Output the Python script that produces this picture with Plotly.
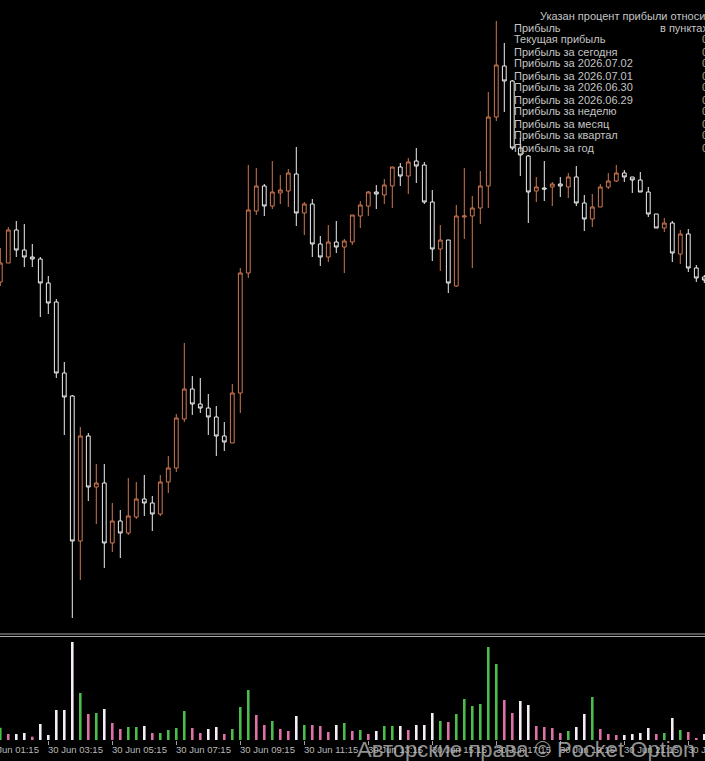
import plotly.graph_objects as go

# ---------------- data (15-minute candles, 30 Jun) ----------------
open_ = [1.08358, 1.08377, 1.08410, 1.08390, 1.08383, 1.08381, 1.08357, 1.08338, 1.08267, 1.08244,
         1.08099, 1.08204, 1.08153, 1.08157, 1.08097, 1.08119, 1.08107, 1.08123, 1.08141, 1.08137,
         1.08126, 1.08158, 1.08172, 1.08221, 1.08251, 1.08236, 1.08232, 1.08223, 1.08204, 1.08197,
         1.08247, 1.08367, 1.08429, 1.08454, 1.08434, 1.08447, 1.08449, 1.08466, 1.08427, 1.08436,
         1.08396, 1.08383, 1.08398, 1.08393, 1.08398, 1.08424, 1.08434, 1.08448, 1.08445, 1.08454,
         1.08473, 1.08464, 1.08479, 1.08475, 1.08438, 1.08391, 1.08400, 1.08354, 1.08423, 1.08424,
         1.08432, 1.08454, 1.08523, 1.08574, 1.08559, 1.08492, 1.08484, 1.08449, 1.08452, 1.08453,
         1.08456, 1.08453, 1.08463, 1.08437, 1.08421, 1.08433, 1.08453, 1.08459, 1.08467, 1.08463,
         1.08460, 1.08448, 1.08426, 1.08412, 1.08417, 1.08386, 1.08406, 1.08372, 1.08363]
high = [1.08392, 1.08413, 1.08419, 1.08416, 1.08396, 1.08383, 1.08364, 1.08341, 1.08278, 1.08245,
        1.08213, 1.08207, 1.08176, 1.08176, 1.08137, 1.08130, 1.08162, 1.08158, 1.08165, 1.08144,
        1.08165, 1.08184, 1.08226, 1.08297, 1.08264, 1.08262, 1.08246, 1.08234, 1.08218, 1.08256,
        1.08372, 1.08475, 1.08472, 1.08456, 1.08479, 1.08465, 1.08471, 1.08493, 1.08438, 1.08441,
        1.08404, 1.08415, 1.08419, 1.08401, 1.08425, 1.08439, 1.08449, 1.08455, 1.08461, 1.08473,
        1.08477, 1.08482, 1.08492, 1.08478, 1.08450, 1.08415, 1.08400, 1.08435, 1.08472, 1.08444,
        1.08469, 1.08548, 1.08619, 1.08597, 1.08560, 1.08502, 1.08485, 1.08463, 1.08479, 1.08458,
        1.08463, 1.08467, 1.08474, 1.08445, 1.08446, 1.08456, 1.08467, 1.08475, 1.08470, 1.08463,
        1.08468, 1.08453, 1.08426, 1.08422, 1.08419, 1.08410, 1.08411, 1.08375, 1.08365]
low = [1.08354, 1.08377, 1.08383, 1.08373, 1.08373, 1.08323, 1.08326, 1.08262, 1.08205, 1.08022,
       1.08060, 1.08139, 1.08116, 1.08072, 1.08088, 1.08082, 1.08105, 1.08121, 1.08124, 1.08109,
       1.08124, 1.08147, 1.08168, 1.08218, 1.08225, 1.08227, 1.08205, 1.08184, 1.08189, 1.08197,
       1.08227, 1.08362, 1.08425, 1.08424, 1.08431, 1.08436, 1.08433, 1.08414, 1.08405, 1.08383,
       1.08374, 1.08378, 1.08387, 1.08367, 1.08395, 1.08412, 1.08424, 1.08431, 1.08436, 1.08432,
       1.08454, 1.08446, 1.08457, 1.08436, 1.08379, 1.08369, 1.08347, 1.08353, 1.08401, 1.08372,
       1.08416, 1.08432, 1.08519, 1.08528, 1.08490, 1.08464, 1.08417, 1.08438, 1.08439, 1.08434,
       1.08443, 1.08442, 1.08434, 1.08409, 1.08413, 1.08433, 1.08451, 1.08458, 1.08458, 1.08447,
       1.08448, 1.08423, 1.08412, 1.08408, 1.08378, 1.08376, 1.08368, 1.08358, 1.08357]
close = [1.08377, 1.08410, 1.08390, 1.08383, 1.08381, 1.08357, 1.08337, 1.08267, 1.08243, 1.08099,
         1.08204, 1.08153, 1.08157, 1.08097, 1.08119, 1.08107, 1.08124, 1.08141, 1.08137, 1.08126,
         1.08158, 1.08172, 1.08222, 1.08251, 1.08236, 1.08232, 1.08223, 1.08204, 1.08198, 1.08247,
         1.08367, 1.08430, 1.08454, 1.08434, 1.08448, 1.08450, 1.08467, 1.08427, 1.08436, 1.08396,
         1.08383, 1.08398, 1.08393, 1.08399, 1.08425, 1.08435, 1.08448, 1.08446, 1.08455, 1.08473,
         1.08464, 1.08478, 1.08474, 1.08438, 1.08391, 1.08400, 1.08357, 1.08424, 1.08424, 1.08432,
         1.08454, 1.08523, 1.08575, 1.08559, 1.08492, 1.08485, 1.08448, 1.08453, 1.08451, 1.08456,
         1.08454, 1.08463, 1.08437, 1.08421, 1.08433, 1.08453, 1.08459, 1.08467, 1.08463, 1.08460,
         1.08448, 1.08426, 1.08412, 1.08417, 1.08387, 1.08406, 1.08372, 1.08362, 1.08360]

volume = [37, 18, 18, 21, 10, 48, 15, 90, 90, 294,
          141, 78, 81, 93, 51, 33, 39, 39, 42, 21,
          21, 30, 36, 87, 36, 21, 33, 39, 18, 33,
          99, 150, 75, 45, 57, 33, 27, 72, 45, 45,
          42, 24, 45, 51, 27, 30, 18, 27, 42, 42,
          42, 30, 45, 45, 81, 57, 54, 78, 123, 102,
          108, 279, 228, 120, 81, 117, 105, 42, 39, 36,
          21, 27, 39, 78, 129, 33, 18, 15, 15, 18,
          21, 36, 18, 21, 66, 30, 24, 6, 18]
# volume state: g = rising/bull, p = falling, w = rising/bear
vol_state = ["g", "p", "w", "w", "p", "w", "w", "w", "w", "w",
             "g", "p", "g", "w", "p", "p", "g", "g", "w", "p",
             "g", "g", "g", "g", "p", "p", "w", "w", "p", "g",
             "g", "g", "p", "p", "g", "p", "p", "w", "g", "p",
             "p", "p", "w", "g", "p", "g", "p", "w", "g", "g",
             "w", "p", "w", "w", "w", "g", "p", "g", "g", "g",
             "g", "g", "g", "p", "p", "w", "w", "p", "p", "p",
             "p", "g", "w", "w", "g", "p", "p", "p", "w", "w",
             "w", "w", "p", "g", "w", "g", "p", "p", "w"]

tick_idx = [-2, 6, 14, 22, 30, 38, 46, 54, 62, 70, 78, 86]
tick_text = ["30 Jun 01:15", "30 Jun 03:15", "30 Jun 05:15", "30 Jun 07:15", "30 Jun 09:15",
             "30 Jun 11:15", "30 Jun 13:15", "30 Jun 15:15", "30 Jun 17:15", "30 Jun 19:15",
             "30 Jun 21:15", "30 Jun 23:15"]

panel_header = "Указан процент прибыли относительно депозита"
panel_rows = ["Прибыль", "Текущая прибыль", "Прибыль за сегодня", "Прибыль за 2026.07.02",
              "Прибыль за 2026.07.01", "Прибыль за 2026.06.30", "Прибыль за 2026.06.29",
              "Прибыль за неделю", "Прибыль за месяц", "Прибыль за квартал", "Прибыль за год"]
panel_values = ["в пунктах", "0.00", "0.00", "0.00", "0.00", "0.00", "0.00", "0.00", "0.00", "0.00", "0.00"]

# ---------------- styles ----------------
UP = "#cd7752"
DN = "#eeeeee"
VCOL = {"g": "#4cbd4c", "p": "#e070a8", "w": "#f6eef6"}
TXT = "#c4c4c4"
FONT = "Liberation Sans"
W, H = 705, 761
PLOT_H = 740  # plot area height in px (bottom margin 21)

idx = list(range(len(open_)))
XR = [-0.0375, 88.0875]

fig = go.Figure()
fig.add_trace(go.Candlestick(
    x=idx, open=open_, high=high, low=low, close=close,
    increasing=dict(line=dict(color=UP, width=1), fillcolor="#000000"),
    decreasing=dict(line=dict(color=DN, width=1), fillcolor="#000000"),
    whiskerwidth=0, xaxis="x", yaxis="y", hoverinfo="skip", showlegend=False))
fig.add_trace(go.Bar(
    x=idx, y=volume, width=0.32,
    marker=dict(color=[VCOL[s] for s in vol_state], line=dict(width=0)),
    xaxis="x2", yaxis="y2", hoverinfo="skip", showlegend=False))


def py(px):
    return (PLOT_H - px) / PLOT_H


annotations = []
# time labels (left aligned at tick)
for t, txt in zip(tick_idx, tick_text):
    if XR[0] <= t <= XR[1]:
        xref, xv = "x2", t
    else:
        xref, xv = "paper", (t - XR[0]) / (XR[1] - XR[0])
    annotations.append(dict(x=xv, xref=xref, y=py(749.5), yref="paper", text=txt,
                            showarrow=False, xanchor="left", yanchor="middle", xshift=-2,
                            font=dict(family=FONT, size=9.5, color="#b8b8b8")))
# info panel
annotations.append(dict(x=538 / W, xref="paper", y=py(16), yref="paper", text=panel_header,
                        showarrow=False, xanchor="left", yanchor="middle",
                        font=dict(family=FONT, size=11, color=TXT)))
for i, (row, val) in enumerate(zip(panel_rows, panel_values)):
    yy = py(27.5 + 12 * i)
    annotations.append(dict(x=512 / W, xref="paper", y=yy, yref="paper", text=row,
                            showarrow=False, xanchor="left", yanchor="middle",
                            font=dict(family=FONT, size=11, color=TXT)))
    if i == 0:
        annotations.append(dict(x=658 / W, xref="paper", y=yy, yref="paper", text=val,
                                showarrow=False, xanchor="left", yanchor="middle",
                                font=dict(family=FONT, size=11, color=TXT)))
    else:
        annotations.append(dict(x=700 / W, xref="paper", y=yy, yref="paper", text=val,
                                showarrow=False, xanchor="left", yanchor="middle",
                                font=dict(family=FONT, size=11, color="#b8a080")))
# watermark
annotations.append(dict(x=697 / W, xref="paper", y=py(749), yref="paper",
                        text="Авторские права © Pocket Option", showarrow=False,
                        xanchor="right", yanchor="middle",
                        font=dict(family=FONT, size=22, color="rgba(185,185,185,0.8)")))

shapes = [
    dict(type="line", xref="paper", yref="paper", x0=0, x1=1, y0=py(634), y1=py(634),
         line=dict(color="#a8a8a8", width=1)),
    dict(type="line", xref="paper", yref="paper", x0=0, x1=1, y0=py(636.5), y1=py(636.5),
         line=dict(color="#a8a8a8", width=1)),
]

fig.update_layout(
    width=W, height=H, margin=dict(l=0, r=0, t=0, b=H - PLOT_H),
    paper_bgcolor="#000000", plot_bgcolor="#000000", showlegend=False,
    boxgap=0.32,
    xaxis=dict(range=XR, domain=[0, 1], anchor="y", showticklabels=False, ticks="",
               showgrid=False, zeroline=False, showline=False, rangeslider=dict(visible=False)),
    yaxis=dict(range=[1.08006, 1.08640], domain=[(PLOT_H - 634) / PLOT_H, 1], visible=False,
               showgrid=False),
    xaxis2=dict(range=XR, domain=[0, 1], anchor="y2", matches="x", showticklabels=False,
                tickmode="array", tickvals=tick_idx, ticks="outside", ticklen=4,
                tickcolor="#a0a0a0", tickwidth=1, showgrid=False, zeroline=False, showline=False),
    yaxis2=dict(range=[0, 309], domain=[0, (PLOT_H - 637) / PLOT_H], visible=False,
                showgrid=False),
    annotations=annotations, shapes=shapes,
)

fig.write_html("out.html")
